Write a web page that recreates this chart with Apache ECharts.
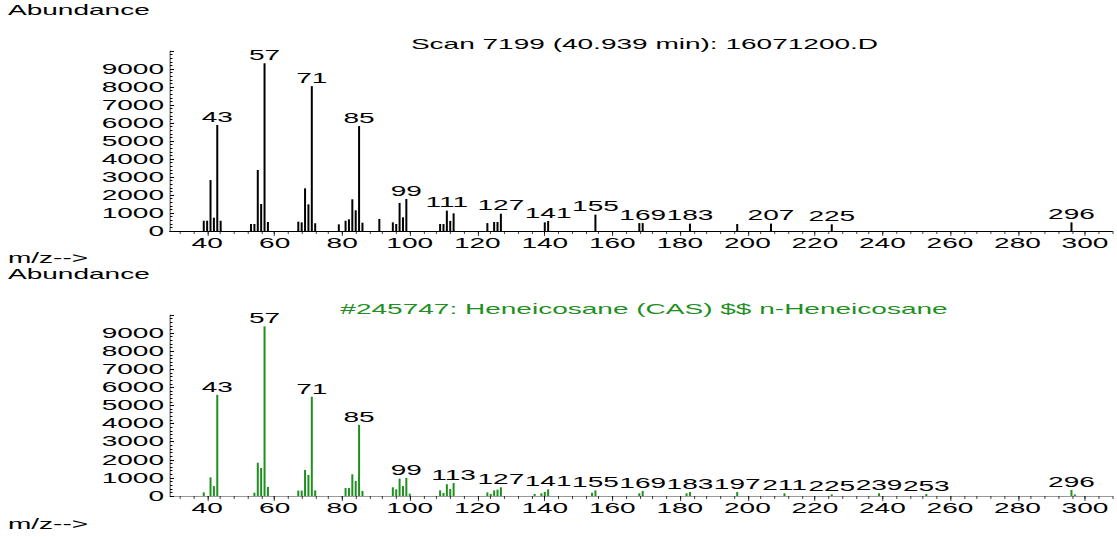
<!DOCTYPE html>
<html>
<head>
<meta charset="utf-8">
<script src="https://cdn.jsdelivr.net/npm/echarts@6/dist/echarts.min.js"></script>
<style>
  html, body { margin: 0; padding: 0; background: #fff; }
  #wrap { width: 1117px; height: 537px; overflow: hidden; background: #fff; }
  /* The plot is laid out narrow and stretched horizontally, like the instrument printout */
  #chart { width: 558px; height: 537px; transform-origin: 0 0; }
</style>
</head>
<body>
<div id="wrap"><div id="chart"></div></div>
<script>
// Measured scan (top panel)
const scanMz = [39, 40, 41, 42, 43, 44, 53, 54, 55, 56, 57, 58, 67, 68, 69, 70, 71, 72,
  79, 81, 82, 83, 84, 85, 86, 91, 95, 96, 97, 98, 99, 109, 110, 111, 112, 113,
  123, 125, 126, 127, 140, 141, 155, 168, 169, 183, 197, 207, 225, 296];
const scanAbundance = [570, 570, 2830, 740, 5890, 570, 390, 390, 3390, 1500, 9320, 500, 520, 480, 2370, 1480, 8050, 430,
  370, 570, 650, 1760, 1150, 5830, 460, 670, 480, 390, 1560, 760, 1780, 390, 390, 1130, 560, 980,
  440, 500, 500, 960, 480, 560, 910, 440, 440, 410, 390, 410, 370, 480];
const scanLabeled = [43, 57, 71, 85, 99, 111, 127, 141, 155, 169, 183, 207, 225, 296];

// Library reference spectrum (bottom panel)
const libMz = [39, 41, 42, 43, 54, 55, 56, 57, 58, 67, 68, 69, 70, 71, 72, 81, 82, 83, 84, 85, 86,
  95, 96, 97, 98, 99, 100, 109, 110, 111, 112, 113, 123, 124, 125, 126, 127, 137, 139, 140, 141,
  154, 155, 168, 169, 182, 183, 197, 211, 225, 239, 253, 296, 297];
const libAbundance = [200, 1030, 550, 5590, 180, 1840, 1550, 9370, 500, 300, 300, 1440, 1160, 5480, 310, 440, 440, 1200, 830, 3930, 280,
  480, 370, 960, 550, 1000, 130, 310, 170, 650, 390, 720, 200, 110, 310, 350, 480, 110, 150, 220, 370,
  180, 310, 150, 280, 150, 220, 220, 150, 90, 150, 110, 330, 90];
const libLabeled = [43, 57, 71, 85, 99, 113, 127, 141, 155, 169, 183, 197, 211, 225, 239, 253, 296];

const xTickLabels = [40, 60, 80, 100, 120, 140, 160, 180, 200, 220, 240, 260, 280, 300];
const scanTitle = 'Scan 7199 (40.939 min): 16071200.D';
const libTitle = '#245747: Heneicosane (CAS) $$ n-Heneicosane';

const GREEN = '#1f8f1f';
const W = 558;
const S = 1117 / W;               // horizontal stretch factor
const sx = v => v / S;            // page pixels -> layout pixels (horizontal)
const FONT = 'Liberation Sans, Arial, Helvetica, sans-serif';
const FS = 14;

document.getElementById('chart').style.transform = 'scaleX(' + S + ')';

const minorX = [];
for (let v = 32; v <= 308; v += 4) minorX.push(v);

const X_MIN = 29, X_MAX = 308;
const GRID_LEFT = sx(170), GRID_W = sx(1112 - 170);

function makeXAxes(gridIndex, lineColor) {
  return [
    {
      type: 'value', gridIndex, min: X_MIN, max: X_MAX, position: 'bottom',
      axisLine: { show: true, onZero: false, lineStyle: { color: lineColor, width: 1 } },
      axisTick: { show: true, customValues: xTickLabels, length: 5, lineStyle: { color: '#000', width: sx(1) } },
      axisLabel: { show: true, customValues: xTickLabels, margin: 5, fontSize: FS, fontFamily: FONT, color: '#000' },
      splitLine: { show: false }
    },
    {
      type: 'value', gridIndex, min: X_MIN, max: X_MAX, position: 'bottom',
      axisLine: { show: false },
      axisTick: { show: true, customValues: minorX, length: 3, lineStyle: { color: '#000', width: sx(1) } },
      axisLabel: { show: false },
      splitLine: { show: false }
    }
  ];
}

function makeYAxis(gridIndex) {
  return {
    type: 'value', gridIndex, min: 0, max: 10000, interval: 1000,
    axisLine: { show: true, lineStyle: { color: '#000', width: sx(1) } },
    axisTick: { show: true, inside: true, length: sx(4), lineStyle: { color: '#000', width: 1 } },
    minorTick: { show: true, splitNumber: 5, length: sx(2.5), lineStyle: { color: '#000', width: 1 } },
    axisLabel: {
      margin: sx(6), fontSize: FS, fontFamily: FONT, color: '#000', showMaxLabel: false,
      formatter: v => String(v)
    },
    splitLine: { show: false }
  };
}

function stems(mz, ab, labeled, color, xAxisIndex, yAxisIndex) {
  return {
    type: 'bar', xAxisIndex, yAxisIndex,
    barWidth: sx(1.4),
    itemStyle: { color },
    data: mz.map((m, i) => ({
      value: [m, ab[i]],
      label: { show: labeled.indexOf(m) >= 0 }
    })),
    label: {
      position: 'top', distance: 1, fontSize: FS, fontFamily: FONT, color: '#000',
      formatter: p => String(p.value[0])
    }
  };
}

function text(str, x, y, color, align) {
  return {
    type: 'text', x: sx(x), y,
    style: { text: str, fill: color, font: FS + 'px ' + FONT, textAlign: align, textVerticalAlign: 'middle' }
  };
}

const chart = echarts.init(document.getElementById('chart'), null, { renderer: 'svg', width: W, height: 537 });
chart.setOption({
  animation: false,
  backgroundColor: '#fff',
  grid: [
    { left: GRID_LEFT, top: 51, width: GRID_W, height: 180 },
    { left: GRID_LEFT, top: 315, width: GRID_W, height: 181 }
  ],
  xAxis: [...makeXAxes(0, '#000'), ...makeXAxes(1, '#999')],
  yAxis: [makeYAxis(0), makeYAxis(1)],
  series: [
    stems(scanMz, scanAbundance, scanLabeled, '#000', 0, 0),
    stems(libMz, libAbundance, libLabeled, GREEN, 2, 1)
  ],
  graphic: [
    text('Abundance', 8, 10, '#000', 'left'),
    text(scanTitle, 644.5, 44, '#000', 'center'),
    text('m/z-->', 8, 258, '#000', 'left'),
    text('Abundance', 8, 274, '#000', 'left'),
    text(libTitle, 644, 309, GREEN, 'center'),
    text('m/z-->', 8, 524, '#000', 'left')
  ]
});
</script>
</body>
</html>
